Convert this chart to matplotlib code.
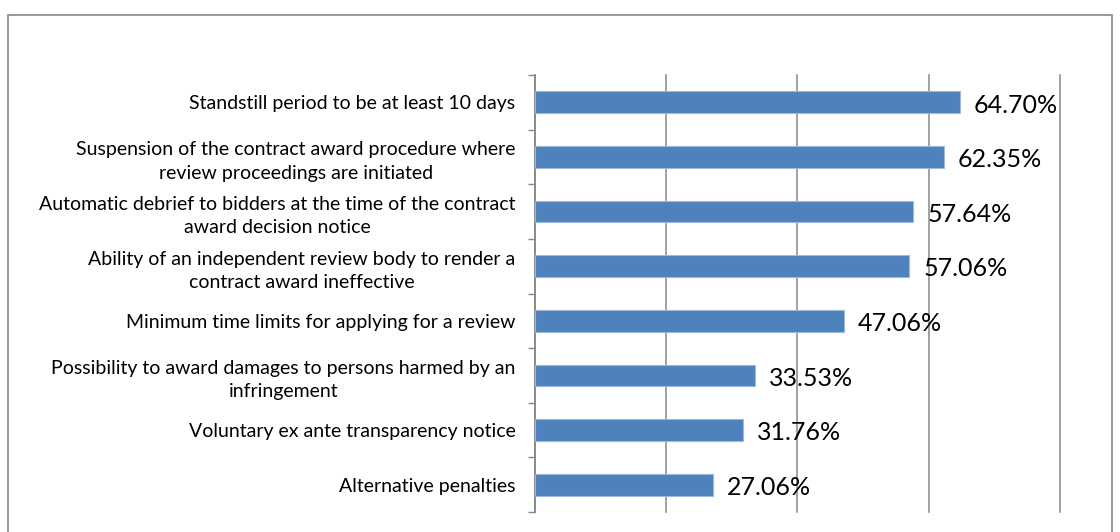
import matplotlib
matplotlib.use('Agg')
import matplotlib.pyplot as plt
from matplotlib.patches import Rectangle
import numpy as np

plt.rcParams['font.family'] = ['Lato', 'DejaVu Sans']

categorias = [
    'Standstill period to be at least 10 days',
    'Suspension of the contract award procedure where\nreview proceedings are initiated',
    'Automatic debrief to bidders at the time of the contract\naward decision notice',
    'Ability of an independent review body to render a\ncontract award ineffective',
    'Minimum time limits for applying for a review',
    'Possibility to award damages to persons harmed by an\ninfringement',
    'Voluntary ex ante transparency notice',
    'Alternative penalties',
]
valores = [64.70, 62.35, 57.64, 57.06, 47.06, 33.53, 31.76, 27.06]

gris = '#888888'
azul = '#4F81BD'

fig = plt.figure(figsize=(11.2, 5.32), dpi=100)
ax = fig.add_axes([0.4777, 0.0376, 0.4687, 0.8214])

# marco exterior del gráfico
fig.patches.append(Rectangle((8 / 1120, -0.02), 1104 / 1120, 0.9918,
                             transform=fig.transFigure, fill=False,
                             edgecolor=gris, linewidth=1.2))

pos = np.arange(len(categorias))
ax.barh(pos, valores, height=0.4, color=azul, edgecolor='#9DB9DC',
        linewidth=0.8, zorder=3)

for p, v in zip(pos, valores):
    ax.annotate(f'{v:.2f}%', (v, p), xytext=(10, -2),
                textcoords='offset points', va='center', ha='left',
                fontsize=18, color='black', zorder=4)

ax.set_xlim(0, 80)
ax.set_ylim(len(categorias) - 0.5, -0.5)
ax.set_xticks([0, 20, 40, 60, 80])
ax.tick_params(axis='x', length=0, labelbottom=False)
ax.grid(axis='x', color=gris, linewidth=1.1, zorder=0)
for g in ax.get_xgridlines():
    g.set_clip_on(False)

ax.set_yticks(np.arange(-0.5, len(categorias)))
ax.set_yticklabels([])
ax.set_yticks(pos, minor=True)
ax.set_yticklabels(categorias, minor=True, fontsize=14,
                   multialignment='center', linespacing=1.45)
ax.tick_params(axis='y', which='major', length=5, color=gris, width=1)
ax.tick_params(axis='y', which='minor', length=0, pad=14)

for s in ['top', 'right', 'bottom']:
    ax.spines[s].set_visible(False)
ax.spines['left'].set_color(gris)
ax.spines['left'].set_linewidth(1.2)

fig.savefig('out.png', dpi=100)
